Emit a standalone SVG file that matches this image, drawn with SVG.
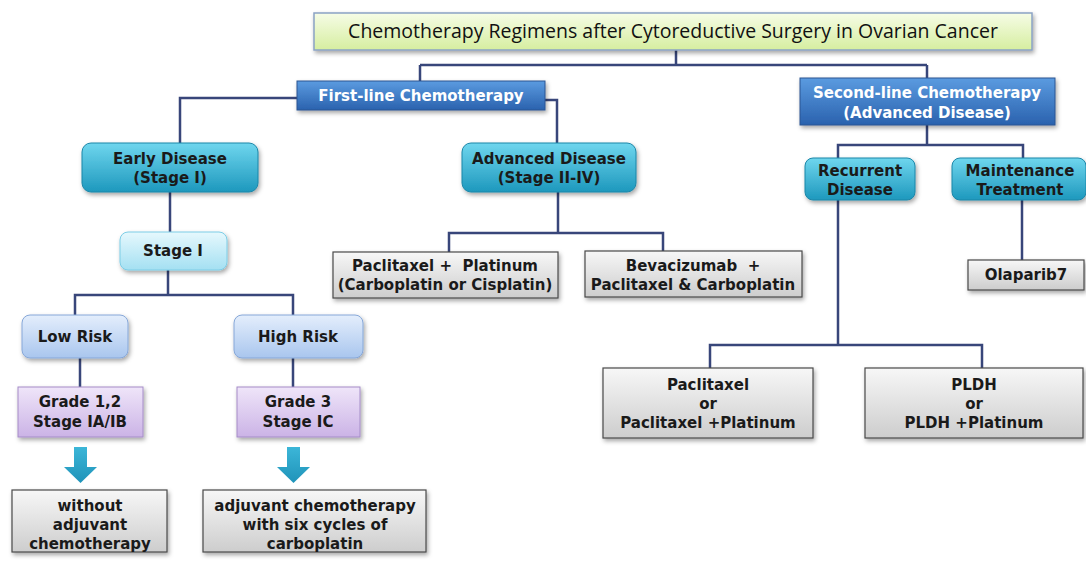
<svg xmlns="http://www.w3.org/2000/svg" width="1086" height="562" viewBox="0 0 1086 562">
<defs>
<linearGradient id="gTitle" x1="0" y1="0" x2="0" y2="1"><stop offset="0" stop-color="#f6fce6"/><stop offset="1" stop-color="#d6eea0"/></linearGradient>
<linearGradient id="gBlue" x1="0" y1="0" x2="0" y2="1"><stop offset="0" stop-color="#5b9be0"/><stop offset="1" stop-color="#2a62ae"/></linearGradient>
<linearGradient id="gTeal" x1="0" y1="0" x2="0" y2="1"><stop offset="0" stop-color="#6fd6ee"/><stop offset="1" stop-color="#1d98bd"/></linearGradient>
<linearGradient id="gCyan" x1="0" y1="0" x2="0" y2="1"><stop offset="0" stop-color="#e6f8fd"/><stop offset="1" stop-color="#a4e0f2"/></linearGradient>
<linearGradient id="gLBlue" x1="0" y1="0" x2="0" y2="1"><stop offset="0" stop-color="#e4eefc"/><stop offset="1" stop-color="#a9c6ee"/></linearGradient>
<linearGradient id="gLav" x1="0" y1="0" x2="0" y2="1"><stop offset="0" stop-color="#efe5f9"/><stop offset="1" stop-color="#cbb3e6"/></linearGradient>
<linearGradient id="gGray" x1="0" y1="0" x2="0" y2="1"><stop offset="0" stop-color="#f7f7f7"/><stop offset="1" stop-color="#cdcdcd"/></linearGradient>
<linearGradient id="gArr" x1="0" y1="0" x2="0" y2="1"><stop offset="0" stop-color="#3cb6d8"/><stop offset="1" stop-color="#1f93b9"/></linearGradient>
<filter id="sh" x="-10%" y="-20%" width="120%" height="150%"><feDropShadow dx="1.5" dy="2.5" stdDeviation="2" flood-color="#000" flood-opacity="0.35"/></filter>
</defs>
<style>
.t{font-family:"DejaVu Sans","Open Sans","Liberation Sans",sans-serif;font-weight:bold;font-size:15px;fill:#1a1a1a;text-anchor:middle}
.w{fill:#ffffff}
.title{font-family:"Open Sans",Lato,"Liberation Sans",sans-serif;font-size:19.5px;fill:#111;text-anchor:middle}
.c{fill:none;stroke:#38467a;stroke-width:2.5}
.bt{fill:url(#gTitle);stroke:#8aa3c4;stroke-width:1.5;filter:url(#sh)}
.bb{fill:url(#gBlue);stroke:#2a5592;stroke-width:1;filter:url(#sh)}
.bte{fill:url(#gTeal);stroke:#1b86a8;stroke-width:1;filter:url(#sh)}
.bc{fill:url(#gCyan);stroke:#7ccde6;stroke-width:1;filter:url(#sh)}
.bl{fill:url(#gLBlue);stroke:#86a7d8;stroke-width:1;filter:url(#sh)}
.bv{fill:url(#gLav);stroke:#a58cc8;stroke-width:1;filter:url(#sh)}
.bg{fill:url(#gGray);stroke:#4a4a4a;stroke-width:1.2;filter:url(#sh)}
.arr{fill:url(#gArr)}
</style>
<rect width="1086" height="562" fill="#ffffff"/>
<g id="connectors">
<path class="c" d="M676 50V65M420 65H927M420 65V81M927 65V78"/>
<path class="c" d="M297 98H180V143M545 100H557V143"/>
<path class="c" d="M170 192V232M168 270V295H75V315M168 295H293V315"/>
<path class="c" d="M80 358V387M293 358V387"/>
<path class="c" d="M558 192V233H449V252M558 233H663V251"/>
<path class="c" d="M927 125V145H838V158M927 145H1023V158"/>
<path class="c" d="M838 200V345H710V368M838 345H982V368"/>
<path class="c" d="M1022 200V260"/>
<path class="arr" d="M74 447H87V467H97L80.5 483L64 467H74Z"/>
<path class="arr" d="M287 447H300V467H310L293.5 483L277 467H287Z"/>
</g>
<g id="title"><rect class="bt" x="314" y="13" width="718" height="37"/><text class="title" x="673" y="38">Chemotherapy Regimens after Cytoreductive Surgery in Ovarian Cancer</text></g>
<g id="first-line"><rect class="bb" x="297" y="81" width="248" height="29"/><text class="t w" x="421" y="101">First-line Chemotherapy</text></g>
<g id="second-line"><rect class="bb" x="800" y="78" width="255" height="47"/><text class="t w" x="927" y="98">Second-line Chemotherapy</text><text class="t w" x="927" y="118">(Advanced Disease)</text></g>
<g id="early"><rect class="bte" x="82" y="143" width="176" height="49" rx="9"/><text class="t" x="170" y="164">Early Disease</text><text class="t" x="170" y="183">(Stage I)</text></g>
<g id="advanced"><rect class="bte" x="462" y="143" width="174" height="49" rx="9"/><text class="t" x="549" y="164">Advanced Disease</text><text class="t" x="549" y="183">(Stage II-IV)</text></g>
<g id="recurrent"><rect class="bte" x="805" y="158" width="110" height="42" rx="8"/><text class="t" x="860" y="176">Recurrent</text><text class="t" x="860" y="195">Disease</text></g>
<g id="maintenance"><rect class="bte" x="952" y="158" width="134" height="42" rx="8"/><text class="t" x="1020" y="176">Maintenance</text><text class="t" x="1020" y="195">Treatment</text></g>
<g id="stage1"><rect class="bc" x="120" y="232" width="107" height="38" rx="8"/><text class="t" x="173" y="256">Stage I</text></g>
<g id="pac-plat"><rect class="bg" x="333" y="252" width="225" height="46"/><text class="t" x="445" y="271" xml:space="preserve">Paclitaxel +  Platinum</text><text class="t" x="445" y="290">(Carboplatin or Cisplatin)</text></g>
<g id="bev"><rect class="bg" x="585" y="251" width="217" height="46"/><text class="t" x="693" y="271" xml:space="preserve">Bevacizumab  +</text><text class="t" x="693" y="290">Paclitaxel &amp; Carboplatin</text></g>
<g id="olaparib"><rect class="bg" x="968" y="260" width="116" height="30"/><text class="t" x="1026" y="280">Olaparib7</text></g>
<g id="low-risk"><rect class="bl" x="22" y="315" width="106" height="43" rx="8"/><text class="t" x="75" y="342">Low Risk</text></g>
<g id="high-risk"><rect class="bl" x="234" y="315" width="129" height="43" rx="8"/><text class="t" x="298" y="342">High Risk</text></g>
<g id="grade12"><rect class="bv" x="18" y="387" width="125" height="50"/><text class="t" x="80" y="407">Grade 1,2</text><text class="t" x="80" y="427">Stage IA/IB</text></g>
<g id="grade3"><rect class="bv" x="237" y="387" width="123" height="50"/><text class="t" x="298" y="407">Grade 3</text><text class="t" x="298" y="427">Stage IC</text></g>
<g id="without"><rect class="bg" x="12" y="490" width="155" height="62"/><text class="t" x="90" y="511">without</text><text class="t" x="90" y="530">adjuvant</text><text class="t" x="90" y="549">chemotherapy</text></g>
<g id="adjuvant"><rect class="bg" x="203" y="490" width="223" height="62"/><text class="t" x="315" y="511">adjuvant chemotherapy</text><text class="t" x="315" y="530">with six cycles of</text><text class="t" x="315" y="549">carboplatin</text></g>
<g id="pac-or"><rect class="bg" x="603" y="368" width="210" height="70"/><text class="t" x="708" y="390">Paclitaxel</text><text class="t" x="708" y="409">or</text><text class="t" x="708" y="428">Paclitaxel +Platinum</text></g>
<g id="pldh"><rect class="bg" x="865" y="368" width="218" height="70"/><text class="t" x="974" y="390">PLDH</text><text class="t" x="974" y="409">or</text><text class="t" x="974" y="428">PLDH +Platinum</text></g>
</svg>
